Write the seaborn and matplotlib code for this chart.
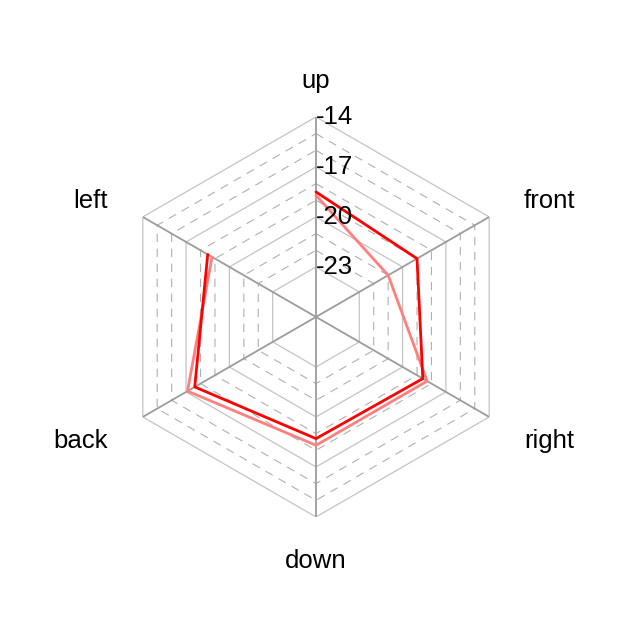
import numpy as np
import pandas as pd
import seaborn as sns
import matplotlib
matplotlib.use("Agg")
import matplotlib.pyplot as plt

# datos del radar
categorias = ["up", "front", "right", "down", "back", "left"]
serie_a = [-18.5, -19.0, -18.6, -18.7, -17.6, -18.5]
serie_b = [-18.7, -21.0, -18.3, -18.3, -17.1, -18.8]
ticks = [-23, -20, -17, -14]
r_min, r_max = -26, -14

sns.set_theme(style="white")
plt.rcParams["font.family"] = ["Liberation Sans", "DejaVu Sans"]

fig = plt.figure(figsize=(6.39, 6.39), dpi=100)
ax = fig.add_axes([0.1815, 0.191, 0.626, 0.626], projection="polar")
ax.set_theta_offset(np.pi / 2)
ax.set_theta_direction(-1)
ax.set_ylim(r_min, r_max)
ax.grid(False)
ax.spines["polar"].set_visible(False)
ax.set_xticks([])
ax.set_yticks([])
ax.patch.set_alpha(0)

n = len(categorias)
ang = np.linspace(0, 2 * np.pi, n, endpoint=False)
ang_c = np.append(ang, ang[0])

# rejilla hexagonal
for lvl in range(-23, -13):
    if lvl in ticks:
        ax.plot(ang_c, [lvl] * (n + 1), color="#c4c4c4", lw=0.9, zorder=1)
    else:
        ax.plot(ang_c, [lvl] * (n + 1), color="#b0b0b0", lw=0.8,
                ls=(0, (7.5, 6)), zorder=1)

# ejes
for a in ang:
    ax.plot([a, a], [r_min, r_max], color="#9c9c9c", lw=1.3, zorder=2)

# series
df_b = pd.DataFrame({"ang": ang_c, "val": serie_b + serie_b[:1]})
df_a = pd.DataFrame({"ang": ang_c, "val": serie_a + serie_a[:1]})
sns.lineplot(data=df_b, x="ang", y="val", sort=False, ax=ax,
             color="#ff7f7f", lw=2.0, zorder=3)
sns.lineplot(data=df_a, x="ang", y="val", sort=False, ax=ax,
             color="#ff0000", lw=2.0, zorder=4)
ax.set_xlabel("")
ax.set_ylabel("")
ax.set_ylim(r_min, r_max)

# etiquetas de los ejes
r_lab = r_min + (r_max - r_min) * 1.2
alin = ["center", "left", "left", "center", "right", "right"]
for a, nombre, ha in zip(ang, categorias, alin):
    ax.annotate(nombre, xy=(a, r_lab), xytext=(0, -2.8),
                textcoords="offset points", ha=ha, va="center",
                fontsize=18.5, color="black", annotation_clip=False)

# etiquetas de ticks
for t in ticks:
    ax.text(0, t, "-" + str(abs(t)), ha="left", va="center", fontsize=18.5,
            color="black", zorder=5)

fig.savefig("out.png", dpi=100)
